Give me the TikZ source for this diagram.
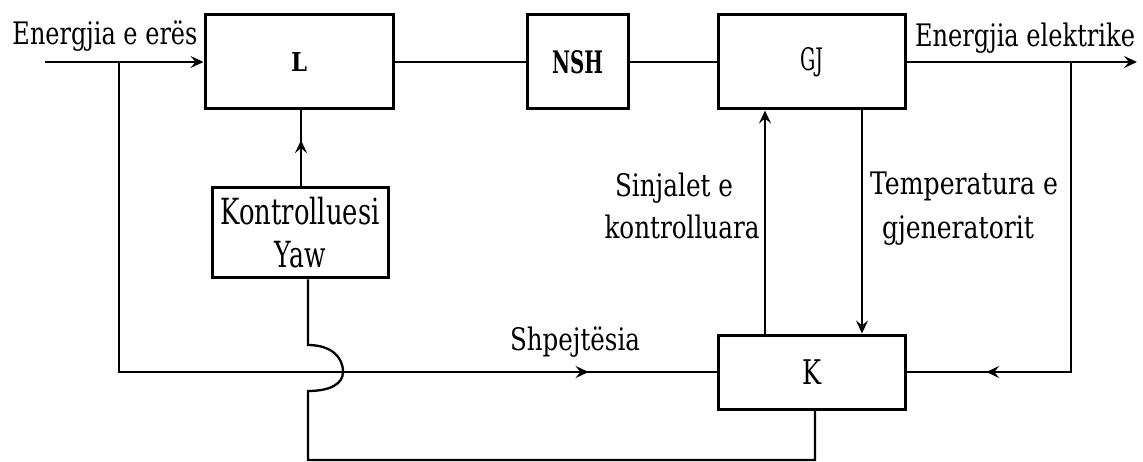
\documentclass[tikz,border=0pt]{standalone}
\usepackage{fontspec}
\setmainfont{DejaVu Serif}
\usetikzlibrary{arrows.meta,decorations.markings}
\newcommand{\fitw}[2]{\resizebox{#1}{\height}{#2}}
\tikzset{
  blk/.style={draw, line width=3pt, inner sep=0pt, font=\fontsize{31}{38}\selectfont},
  lbl/.style={inner sep=0pt, anchor=base, font=\fontsize{31}{38}\selectfont},
  conn/.style={line width=2.8pt},
  thinconn/.style={line width=2.3pt},
  tip/.style={-{Stealth[length=13pt,width=12pt,inset=5pt]}},
  midarrow/.style={postaction={decorate}, decoration={markings,
      mark=at position #1 with {\arrow{Stealth[length=13pt,width=12pt,inset=5pt]}}}}
}
\begin{document}
\begin{tikzpicture}[x=1pt,y=-1pt]
\useasboundingbox (0,0) rectangle (1143,462);
% blocks
\node[blk, minimum width=188pt, minimum height=94pt, font=\fontsize{26}{30}\selectfont] (L) at (299,62) {\fitw{16pt}{\bfseries L}};
\node[blk, minimum width=101pt, minimum height=94pt] (NSH) at (577.5,62) {\fitw{51pt}{\bfseries NSH}};
\node[blk, minimum width=187pt, minimum height=94pt] (GJ) at (811.5,62) {\fitw{23pt}{GJ}};
\node[blk, minimum width=187pt, minimum height=74pt, font=\fontsize{34}{38}\selectfont] (K) at (811.5,372) {\fitw{19pt}{K}};
\node[blk, minimum width=176pt, minimum height=90pt, align=center, font=\fontsize{36}{43}\selectfont] (Y) at (300,233)
  {\fitw{159pt}{Kontrolluesi}\\\fitw{51pt}{Yaw}};
% labels
\node[lbl] (tin) at (105,45) {\fitw{185pt}{Energjia e erës}};
\node[lbl] (tout) at (1025,47) {\fitw{220pt}{Energjia elektrike}};
\node[lbl] (tsp) at (575,350) {\fitw{130pt}{Shpejtësia}};
\node[lbl] (ts1) at (674,197) {\fitw{118pt}{Sinjalet e}};
\node[lbl] (ts2) at (682,239) {\fitw{155pt}{kontrolluara}};
\node[lbl] (tt1) at (964,195) {\fitw{188pt}{Temperatura e}};
\node[lbl] (tt2) at (958,239) {\fitw{152pt}{gjeneratorit}};
% coordinates
\coordinate (in) at (45,62);
\coordinate (b1) at (119,62);
\coordinate (out) at (1137,62);
\coordinate (b2) at (1071,62);
\coordinate (xs) at (765,0);
\coordinate (xt) at (862,0);
\coordinate (xy) at (301,0);
\coordinate (j1) at (308,345);
\coordinate (jm) at (343,372);
\coordinate (j2) at (308,391);
\coordinate (yb) at (308,460);
\coordinate (kb) at (815,460);
% connectors
\draw[conn,tip] (in) -- (L.west);
\draw[conn,midarrow=0.859] (b1) |- (K.west);
\draw[conn] (L.east) -- (NSH.west);
\draw[thinconn] (NSH.east) -- (GJ.west);
\draw[conn,tip] (GJ.east) -- (out);
\draw[conn,midarrow=0.832] (b2) |- (K.east);
\draw[conn,tip] (K.north -| xs) -- (GJ.south -| xs);
\draw[thinconn,tip] (GJ.south -| xt) -- (K.north -| xt);
\draw[thinconn,midarrow=0.61] (Y.north -| xy) -- (L.south -| xy);
\draw[thinconn] (Y.south -| yb) -- (j1)
  .. controls (330,345) and (343,356) .. (jm)
  .. controls (343,384) and (330,391) .. (j2)
  -- (yb) -- (kb) -- (K.south -| kb);
\end{tikzpicture}
\end{document}
